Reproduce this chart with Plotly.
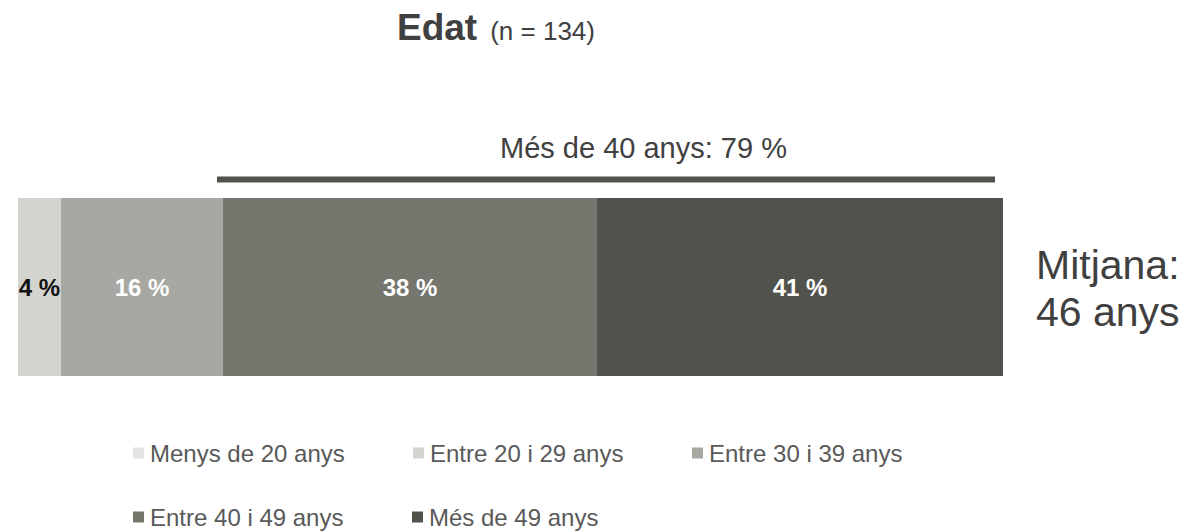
import plotly.graph_objects as go

# ---- data ----
categories = ["Menys de 20 anys", "Entre 20 i 29 anys", "Entre 30 i 39 anys",
              "Entre 40 i 49 anys", "Més de 49 anys"]
values = [0.0, 4.4, 16.4, 38.0, 41.2]
colors = ["#e4e4e2", "#d3d3cf", "#a6a8a1", "#75766e", "#52524c"]
label_colors = ["#111111", "#111111", "#ffffff", "#ffffff", "#ffffff"]
row_label = "Edat"
n_total = 134
mean_age = 46

FONT = "Liberation Sans, Arial, sans-serif"
OFF = 8                      # default body margin of the html page
W, H = 1204 - OFF, 531 - OFF
ML, MT = 18 - OFF, 198 - OFF
MR = W - (1003 - OFF)
MB = H - (376 - OFF)
PW = W - ML - MR
PH = H - MT - MB


def px(x):
    """page pixel x -> paper coordinate"""
    return (x - OFF - ML) / PW


def py(y):
    """page pixel y -> paper coordinate"""
    return (H - MB - (y - OFF)) / PH


fig = go.Figure()
for cat, v, c, lc in zip(categories, values, colors, label_colors):
    fig.add_trace(go.Bar(
        x=[v], y=[row_label], orientation="h", name=cat,
        marker=dict(color=c, line=dict(width=0)),
        text=[f"{v:.0f} %" if v > 0 else ""],
        textposition="inside", insidetextanchor="middle", textangle=0,
        constraintext="none",
        textfont=dict(family=FONT, size=24, color=lc, weight="bold"),
        showlegend=False, hoverinfo="skip",
    ))

over40 = round(values[3] + values[4])

annotations = [
    dict(text=f"Més de 40 anys: {over40} %", xref="paper", yref="paper",
         x=px(643.5), y=py(148), xanchor="center", yanchor="middle",
         showarrow=False, font=dict(family=FONT, size=29, color="#404040")),
    dict(text="Mitjana:", xref="paper", yref="paper",
         x=px(1034), y=py(265), xanchor="left", yanchor="middle", align="left",
         showarrow=False, font=dict(family=FONT, size=41, color="#404040")),
    dict(text=f"{mean_age} anys", xref="paper", yref="paper",
         x=px(1034), y=py(312), xanchor="left", yanchor="middle", align="left",
         showarrow=False, font=dict(family=FONT, size=41, color="#404040")),
]
shapes = [
    dict(type="line", xref="paper", yref="paper", x0=px(217), x1=px(995),
         y0=py(179.5), y1=py(179.5), line=dict(color="#52524c", width=6)),
]

# custom legend (positions in page pixels)
legend_pos = [(133, 453), (413, 453), (692, 453), (133, 517), (412, 517)]
sq = 11
for cat, c, (lx, ly) in zip(categories, colors, legend_pos):
    shapes.append(dict(type="rect", xref="paper", yref="paper",
                       x0=px(lx), x1=px(lx + sq), y0=py(ly + sq / 2), y1=py(ly - sq / 2),
                       fillcolor=c, line=dict(width=0)))
    annotations.append(dict(text=cat, xref="paper", yref="paper",
                            x=px(lx + sq + 4), y=py(ly), xanchor="left", yanchor="middle",
                            showarrow=False,
                            font=dict(family=FONT, size=24, color="#595959")))

fig.update_layout(
    width=W, height=H,
    margin=dict(l=ML, r=MR, t=MT, b=MB, pad=0),
    barmode="stack", bargap=0,
    paper_bgcolor="white", plot_bgcolor="white",
    title=dict(text=f"<b>Edat</b><span style='font-size:26px'>&#8194;(n = {n_total})</span>",
               x=(397 - OFF) / W, xanchor="left", y=1 - (27 - OFF) / H, yanchor="middle",
               yref="container", xref="container",
               font=dict(family=FONT, size=37, color="#404040")),
    xaxis=dict(range=[0, 100], visible=False, fixedrange=True),
    yaxis=dict(range=[-0.5, 0.5], visible=False, fixedrange=True),
    uniformtext=dict(mode="show", minsize=24),
    annotations=annotations, shapes=shapes,
    font=dict(family=FONT),
)

fig.write_html("out.html", config={"displayModeBar": False})
